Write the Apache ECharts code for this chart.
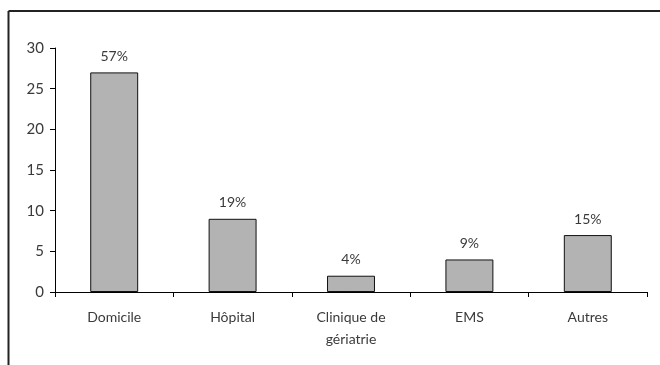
<!DOCTYPE html>
<html>
<head>
<meta charset="utf-8">
<script src="https://cdn.jsdelivr.net/npm/echarts@6/dist/echarts.min.js"></script>
<style>
  html, body { margin: 0; padding: 0; background: #fff; }
  #chart { width: 660px; height: 365px; }
</style>
</head>
<body>
<div id="chart"></div>
<script>
// Lieu de décès : nombre de cas et part en pourcentage
const categories = ['Domicile', 'Hôpital', 'Clinique de\ngériatrie', 'EMS', 'Autres'];
const counts = [27, 9, 2, 4, 7];
const percentLabels = ['57%', '19%', '4%', '9%', '15%'];
const yTicks = [0, 5, 10, 15, 20, 25, 30];

const FONT = 'Lato, "Noto Sans", sans-serif';
const TEXT = '#3a3a3a';

const chart = echarts.init(document.getElementById('chart'), null, { renderer: 'canvas' });

chart.setOption({
  animation: false,
  backgroundColor: '#ffffff',
  grid: { left: 55, right: 13, top: 48, bottom: 73, containLabel: false },
  graphic: [
    { type: 'line', shape: { x1: 8.5, y1: 11, x2: 660, y2: 11 },
      style: { stroke: '#222', lineWidth: 2 } },
    { type: 'line', shape: { x1: 8.5, y1: 11, x2: 8.5, y2: 365 },
      style: { stroke: '#222', lineWidth: 2 } }
  ],
  xAxis: {
    type: 'category',
    data: categories,
    boundaryGap: true,
    axisLine: { lineStyle: { color: '#000', width: 1 } },
    axisTick: { show: true, alignWithLabel: false, length: 5, inside: false,
                lineStyle: { color: '#000' } },
    axisLabel: { color: TEXT, fontFamily: FONT, fontSize: 14, margin: 14,
                 lineHeight: 22, interval: 0 }
  },
  yAxis: {
    type: 'value',
    min: yTicks[0],
    max: yTicks[yTicks.length - 1],
    interval: 5,
    splitLine: { show: false },
    axisLine: { show: true, lineStyle: { color: '#000', width: 1 } },
    axisTick: { show: true, length: 5, lineStyle: { color: '#000' } },
    axisLabel: { color: TEXT, fontFamily: FONT, fontSize: 15, margin: 11 }
  },
  series: [{
    type: 'bar',
    data: counts,
    barWidth: '40.5%',
    itemStyle: { color: '#b3b3b3', borderColor: '#111', borderWidth: 1 },
    label: {
      show: true,
      position: 'top',
      distance: 9,
      color: TEXT,
      fontFamily: FONT,
      fontSize: 14,
      formatter: p => percentLabels[p.dataIndex]
    }
  }]
});
</script>
</body>
</html>
